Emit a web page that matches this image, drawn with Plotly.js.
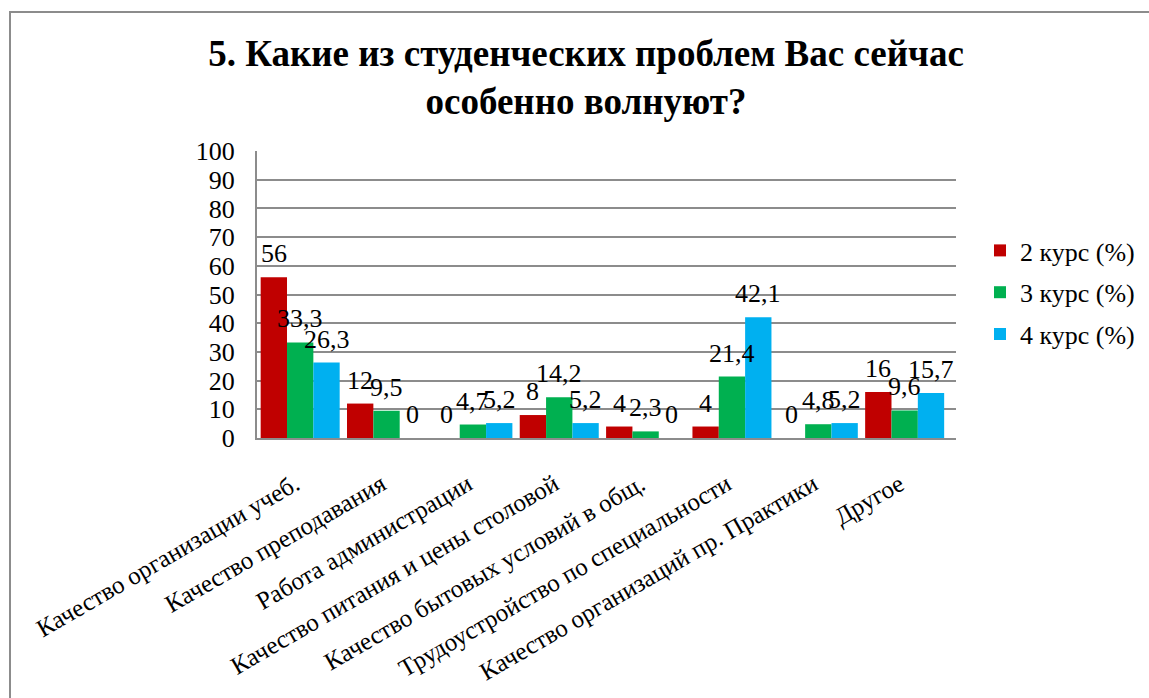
<!DOCTYPE html>
<html>
<head>
<meta charset="utf-8">
<script src="https://cdn.plot.ly/plotly-3.0.1.min.js"></script>
<style>
html,body{margin:0;padding:0;background:#fff;}
#chart{width:1149px;height:698px;}
</style>
</head>
<body>
<div id="chart"></div>
<script>
const categories = [
  "Качество организации учеб.",
  "Качество преподавания",
  "Работа администрации",
  "Качество питания и цены столовой",
  "Качество бытовых условий в общ.",
  "Трудоустройство по специальности",
  "Качество организаций пр. Практики",
  "Другое"
];
const seriesNames = ["2 курс (%)", "3 курс (%)", "4 курс (%)"];
const course2 = [56, 12, 0, 8, 4, 4, 0, 16];
const course3 = [33.3, 9.5, 4.7, 14.2, 2.3, 21.4, 4.8, 9.6];
const course4 = [26.3, 0, 5.2, 5.2, 0, 42.1, 5.2, 15.7];
const yTicks = [0, 10, 20, 30, 40, 50, 60, 70, 80, 90, 100];

const colors = ["#C00000", "#00B050", "#00B0F0"];
const allSeries = [course2, course3, course4];
const FONT = "'Liberation Serif', 'Times New Roman', Tinos, serif";
const bargap = 0.085;

// plot area in pixels
const W = 1149, H = 698;
const L = 257, R = 956, T = 151, B = 438;
const pw = R - L, ph = B - T;

const traces = allSeries.map((vals, s) => ({
  type: "bar",
  name: seriesNames[s],
  x: categories,
  y: vals,
  marker: {color: colors[s], line: {width: 0}},
  legendgroup: "g" + s,
  hoverinfo: "none"
}));

const w = (1 - bargap) / 3;
const annotations = [];
allSeries.forEach((vals, s) => {
  vals.forEach((v, i) => {
    annotations.push({
      xref: "x", yref: "y",
      x: i + (s - 1) * w,
      y: v,
      text: String(v).replace(".", ","),
      showarrow: false,
      xanchor: "center",
      yanchor: "bottom",
      yshift: 7,
      font: {family: FONT, size: 26, color: "#000"}
    });
  });
});

const px2x = p => (p - L) / pw;
const px2y = p => (B - p) / ph;

const layout = {
  width: W, height: H,
  margin: {l: L, r: W - R, t: T, b: H - B, pad: 0, autoexpand: false},
  paper_bgcolor: "#fff",
  plot_bgcolor: "#fff",
  font: {family: FONT, size: 26, color: "#000"},
  title: {
    text: "5. Какие из студенческих проблем Вас сейчас<br>особенно волнуют?",
    font: {family: FONT, size: 37, color: "#000", weight: "bold"},
    x: 586 / W, xanchor: "center", xref: "container",
    y: 1 - 66 / H, yanchor: "top", yref: "container"
  },
  barmode: "group",
  bargap: bargap,
  bargroupgap: 0,
  xaxis: {
    type: "category",
    tickangle: -30,
    tickfont: {family: FONT, size: 25, color: "#000"},
    showgrid: false,
    showline: true, linecolor: "#8c8c8c", linewidth: 2,
    ticks: "", ticklabelstandoff: 20, ticklabelshift: -5,
    zeroline: false,
    fixedrange: true
  },
  yaxis: {
    range: [0, 100],
    tickvals: yTicks,
    ticktext: yTicks.map(String),
    tickfont: {family: FONT, size: 26, color: "#000"},
    showgrid: true, gridcolor: "#8c8c8c", gridwidth: 2,
    showline: true, linecolor: "#8c8c8c", linewidth: 2,
    ticks: "", ticklabelstandoff: 15,
    zeroline: false,
    fixedrange: true
  },
  showlegend: true,
  legend: {
    x: px2x(980), xanchor: "left",
    y: px2y(227), yanchor: "top",
    font: {family: FONT, size: 26, color: "#000"},
    traceorder: "grouped",
    tracegroupgap: 5,
    bgcolor: "rgba(0,0,0,0)",
    itemwidth: 30
  },
  annotations: annotations,
  shapes: [{
    type: "rect", xref: "paper", yref: "paper",
    x0: px2x(10), x1: px2x(W + 20),
    y0: px2y(H + 20), y1: px2y(12),
    line: {color: "#8c8c8c", width: 2},
    fillcolor: "rgba(0,0,0,0)",
    layer: "below"
  }]
};

Plotly.newPlot("chart", traces, layout, {displayModeBar: false, staticPlot: true});
</script>
</body>
</html>
